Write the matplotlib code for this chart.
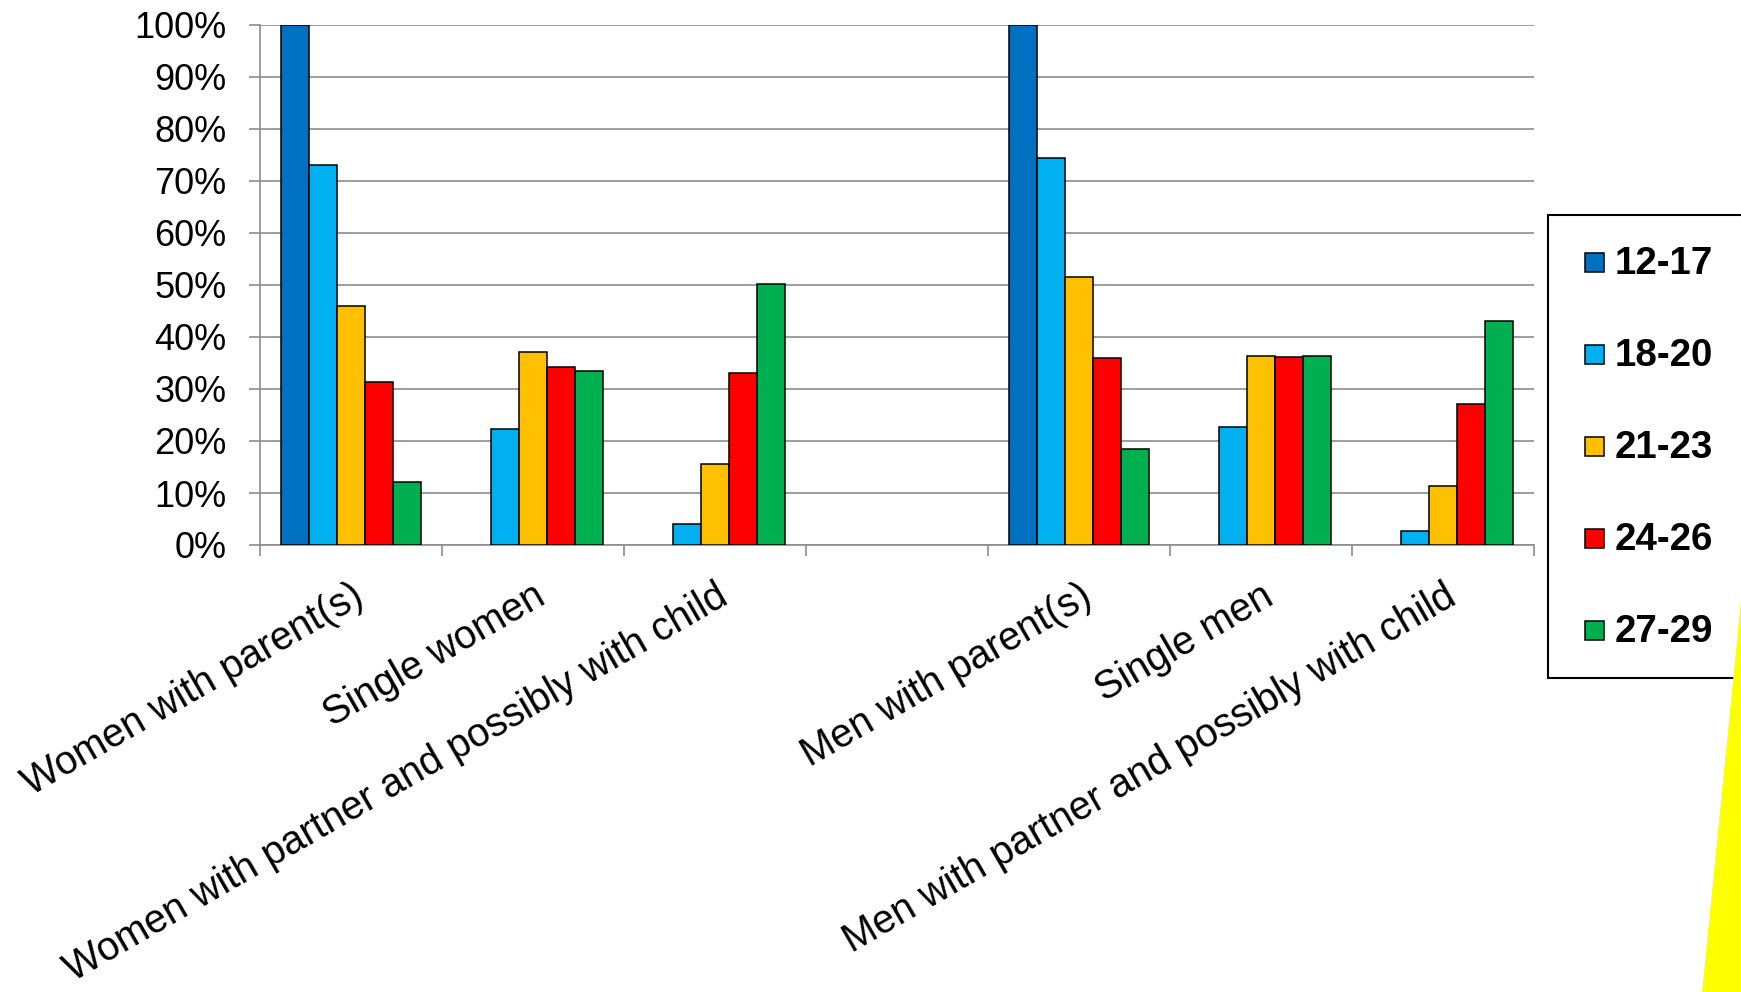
import matplotlib
matplotlib.use("Agg")
import matplotlib.pyplot as plt
import numpy as np
from matplotlib.patches import Rectangle, Polygon
from matplotlib.ticker import FuncFormatter, FixedLocator

plt.rcParams['font.family'] = ['Liberation Sans', 'DejaVu Sans']

categories = ["Women with parent(s)", "Single women",
              "Women with partner and possibly with child", "",
              "Men with parent(s)", "Single men",
              "Men with partner and possibly with child"]
series_labels = ["12-17", "18-20", "21-23", "24-26", "27-29"]
series_colors = ["#0070C0", "#00B0F0", "#FFC000", "#FF0000", "#00B050"]

age_12_17 = [100.0, 0.0, 0.0, 0.0, 100.0, 0.0, 0.0]
age_18_20 = [73.0, 22.4, 4.1, 0.0, 74.4, 22.7, 2.7]
age_21_23 = [45.9, 37.1, 15.6, 0.0, 51.5, 36.4, 11.3]
age_24_26 = [31.4, 34.2, 33.0, 0.0, 36.0, 36.1, 27.1]
age_27_29 = [12.2, 33.5, 50.2, 0.0, 18.4, 36.3, 43.1]
series_values = [age_12_17, age_18_20, age_21_23, age_24_26, age_27_29]

W, H = 1741, 992
fig = plt.figure(figsize=(W / 100, H / 100), dpi=100)
ax = fig.add_axes([260 / W, 1 - 545 / H, (1534 - 260) / W, (545 - 25) / H])

grey = "#8C8C8C"
x = np.arange(len(categories))
bw = 0.77 / 5
for i, (vals, lab, col) in enumerate(zip(series_values, series_labels, series_colors)):
    pos = x - 0.385 + bw * (i + 0.5)
    v = np.array(vals)
    ax.bar(pos, np.where(v > 0, v, np.nan), width=bw, color=col,
           edgecolor="black", linewidth=1.1, zorder=3, label=lab)

ax.set_xlim(-0.5, len(categories) - 0.5)
ax.set_ylim(0, 100)
ax.yaxis.set_major_locator(FixedLocator(np.arange(0, 101, 10)))
ax.yaxis.set_major_formatter(FuncFormatter(lambda v, p: f"{int(v)}%"))
ax.yaxis.grid(True, color=grey, linewidth=1.2, zorder=0)
ax.set_axisbelow(True)

for s in ["top", "right"]:
    ax.spines[s].set_visible(False)
for s in ["left", "bottom"]:
    ax.spines[s].set_color(grey)
    ax.spines[s].set_linewidth(1.2)

ax.tick_params(axis="y", length=8, width=1.2, color=grey, labelsize=26, pad=16)
ax.set_xticks(x)
ax.set_xticklabels(categories, rotation=30, ha="right", rotation_mode="anchor", fontsize=28.5)
ax.set_xticks(np.arange(-0.5, len(categories), 1.0), minor=True)
ax.tick_params(axis="x", which="major", length=0, pad=23)
ax.tick_params(axis="x", which="minor", length=8, width=1.2, color=grey)

# legend frame (extends beyond figure edge)
def fx(px):
    return px / W

def fy(py):
    return 1 - py / H

frame = Rectangle((fx(1548), fy(678)), (1800 - 1548) / W, (678 - 215) / H,
                  transform=fig.transFigure, facecolor="white", edgecolor="black",
                  linewidth=1.5, zorder=5)
fig.add_artist(frame)

row0_baseline = 274
row_step = 91.9
for i, (lab, col) in enumerate(zip(series_labels, series_colors)):
    base = row0_baseline + row_step * i
    m = Rectangle((fx(1585), fy(base - 2)), 19 / W, 19 / H, transform=fig.transFigure,
                  facecolor=col, edgecolor="black", linewidth=1.1, zorder=6)
    fig.add_artist(m)
    fig.text(fx(1615), fy(base), lab, fontsize=27.7, fontweight="bold",
             ha="left", va="baseline", zorder=6)

# yellow decorative shape at right edge
yellow = Polygon([(fx(1741), fy(600)), (fx(1702), 0), (1, 0)], closed=True,
                 transform=fig.transFigure, facecolor="#FFFF00", edgecolor="none", zorder=7)
fig.add_artist(yellow)

fig.savefig("out.png", dpi=100)
